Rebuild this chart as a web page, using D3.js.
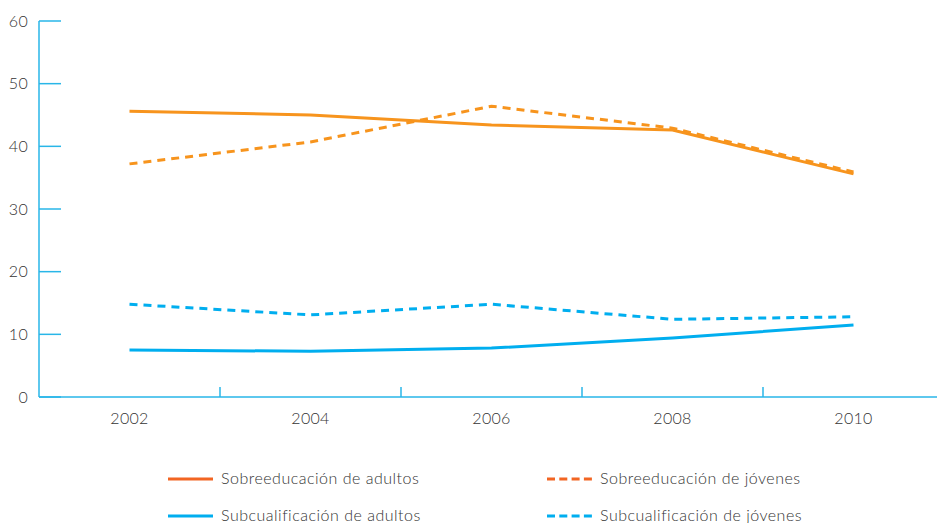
<!DOCTYPE html>
<html><head><meta charset="utf-8">
<script src="https://cdn.jsdelivr.net/npm/d3@7"></script>
<style>
html,body{margin:0;padding:0;background:#fff;}
svg text{font-family:Lato,"Open Sans",sans-serif;font-weight:300;fill:#333;}
</style></head>
<body><svg id="c" width="937" height="523"></svg>
<script>
const years = ["2002","2004","2006","2008","2010"];
const sobreAdultos = [45.6, 45.0, 43.4, 42.6, 35.6];
const sobreJovenes = [37.2, 40.7, 46.4, 42.9, 35.9];
const subAdultos = [7.5, 7.3, 7.8, 9.4, 11.5];
const subJovenes = [14.8, 13.1, 14.8, 12.4, 12.8];
const yTicks = [0,10,20,30,40,50,60];
const seriesNames = ["Sobreeducación de adultos","Sobreeducación de jóvenes","Subcualificación de adultos","Subcualificación de jóvenes"];

const orange = "#F7941D", orangeLeg = "#F26522", blue = "#00AEEF", axisBlue = "#29B6E8";
const series = [
  {name: seriesNames[0], values: sobreAdultos, color: orange, leg: orangeLeg, dash: null},
  {name: seriesNames[1], values: sobreJovenes, color: orange, leg: orangeLeg, dash: "8,6"},
  {name: seriesNames[2], values: subAdultos, color: blue, leg: blue, dash: null},
  {name: seriesNames[3], values: subJovenes, color: blue, leg: blue, dash: "8,6"}
];

const svg = d3.select("#c");
const x = d3.scaleBand().domain(years).range([39, 944]).padding(0);
const y = d3.scaleLinear().domain([0,60]).range([397, 21]);

// Y axis
const gy = svg.append("g");
gy.append("line").attr("x1",39).attr("x2",39).attr("y1",y(60)).attr("y2",y(0))
  .attr("stroke",axisBlue).attr("stroke-width",1.5);
gy.selectAll("line.t").data(yTicks).join("line").attr("class","t")
  .attr("x1",39).attr("x2",61).attr("y1",d=>y(d)).attr("y2",d=>y(d))
  .attr("stroke",axisBlue).attr("stroke-width",1.5);
gy.selectAll("text").data(yTicks).join("text")
  .attr("x",28).attr("y",d=>y(d)).attr("dy","0.35em").attr("text-anchor","end")
  .attr("font-size",16).attr("letter-spacing",0.3).text(d=>d);

// X axis
const gx = svg.append("g");
gx.append("line").attr("x1",39).attr("x2",937).attr("y1",397).attr("y2",397)
  .attr("stroke",axisBlue).attr("stroke-width",1.5);
gx.selectAll("line.t").data(years.slice(1)).join("line").attr("class","t")
  .attr("x1",d=>x(d)).attr("x2",d=>x(d)).attr("y1",387).attr("y2",397)
  .attr("stroke",axisBlue).attr("stroke-width",1.5);
gx.selectAll("text").data(years).join("text")
  .attr("x",d=>x(d)+x.bandwidth()/2).attr("y",418).attr("dy","0.35em")
  .attr("text-anchor","middle").attr("font-size",16).attr("letter-spacing",0.3).text(d=>d);

// Lines
const line = d3.line().x((d,i)=>x(years[i])+x.bandwidth()/2).y(d=>y(d));
svg.append("g").selectAll("path").data(series).join("path")
  .attr("d",d=>line(d.values)).attr("fill","none")
  .attr("stroke",d=>d.color).attr("stroke-width",3)
  .attr("stroke-dasharray",d=>d.dash);

// Legend
const legPos = [[168,479],[547,479],[168,516],[547,516]];
const lg = svg.append("g").selectAll("g").data(series).join("g")
  .attr("transform",(d,i)=>`translate(${legPos[i][0]},${legPos[i][1]})`);
lg.append("line").attr("x1",0).attr("x2",45).attr("y1",0).attr("y2",0)
  .attr("stroke",d=>d.leg).attr("stroke-width",3)
  .attr("stroke-dasharray",d=>d.dash ? "8,4.3" : null);
lg.append("text").attr("x",53).attr("y",0).attr("dy","0.3em")
  .attr("font-size",16).attr("letter-spacing",0.5).text(d=>d.name);
</script></body></html>
